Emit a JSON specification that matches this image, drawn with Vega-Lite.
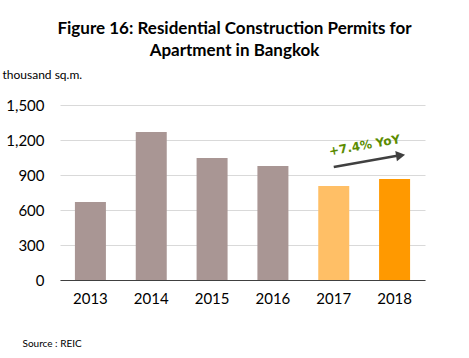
{
  "$schema": "https://vega.github.io/schema/vega-lite/v6.json",
  "autosize": {"type": "none"},
  "width": 365,
  "height": 175,
  "padding": {"left": 60, "top": 105, "right": 44, "bottom": 78},
  "background": "white",
  "config": {
    "font": "Lato",
    "view": {"stroke": null}
  },
  "title": {
    "text": ["Figure 16: Residential Construction Permits for", "Apartment in Bangkok"],
    "fontSize": 17,
    "fontWeight": "bold",
    "font": "Lato",
    "color": "#000000",
    "anchor": "middle",
    "frame": "group",
    "dx": -8,
    "offset": 8,
    "lineHeight": 22
  },
  "datasets": {
    "bars": [
      {"year": "2013", "value": 668, "group": "past"},
      {"year": "2014", "value": 1268, "group": "past"},
      {"year": "2015", "value": 1045, "group": "past"},
      {"year": "2016", "value": 977, "group": "past"},
      {"year": "2017", "value": 805, "group": "2017"},
      {"year": "2018", "value": 865, "group": "2018"}
    ],
    "arrow": [
      {"x1": "2017", "x2": "2018", "y1": 968, "y2": 1068}
    ],
    "label": [
      {"year": "2018", "value": 1155, "text": "+7.4% YoY"}
    ]
  },
  "layer": [
    {
      "data": {"name": "bars"},
      "mark": {"type": "bar", "width": 31},
      "encoding": {
        "x": {
          "field": "year", "type": "nominal",
          "scale": {"paddingInner": 0.5, "paddingOuter": 0.25},
          "axis": {
            "title": "Source : REIC",
            "titleFontSize": 10,
            "titleFontWeight": "normal",
            "titleFont": "Lato",
            "titleColor": "#000000",
            "titleX": -38,
            "titleY": 66,
            "titleAlign": "left",
            "titleBaseline": "alphabetic",
            "labelAngle": 0,
            "labelFontSize": 15,
            "labelColor": "#000000",
            "labelPadding": 11,
            "ticks": false,
            "domainColor": "#404040",
            "domainWidth": 1
          }
        },
        "y": {
          "field": "value", "type": "quantitative",
          "scale": {"domain": [0, 1500], "nice": false, "zero": true},
          "axis": {
            "values": [0, 300, 600, 900, 1200, 1500],
            "tickCount": 6,
            "format": ",.0f",
            "labelOverlap": false,
            "labelFlush": false,
            "title": "thousand sq.m.",
            "titleAngle": 0,
            "titleX": -58,
            "titleY": -27,
            "titleAlign": "left",
            "titleBaseline": "alphabetic",
            "titleFontSize": 12,
            "titleFontWeight": "normal",
            "titleColor": "#000000",
            "labelFontSize": 15,
            "labelColor": "#000000",
            "labelPadding": 16,
            "ticks": false,
            "domain": false,
            "gridColor": "#D9D9D9",
            "gridWidth": 1
          }
        },
        "color": {
          "field": "group", "type": "nominal",
          "scale": {"domain": ["past", "2017", "2018"], "range": ["#A99694", "#FFBF66", "#FF9900"]},
          "legend": null
        }
      }
    },
    {
      "data": {"name": "arrow"},
      "mark": {"type": "rule", "color": "#404040", "strokeWidth": 2.5, "x2Offset": 4},
      "encoding": {
        "x": {"field": "x1", "type": "nominal"},
        "x2": {"field": "x2"},
        "y": {"field": "y1", "type": "quantitative"},
        "y2": {"field": "y2"}
      }
    },
    {
      "data": {"name": "arrow"},
      "mark": {"type": "point", "shape": "triangle-right", "filled": true, "color": "#404040", "opacity": 1, "size": 110, "angle": -9, "xOffset": 6},
      "encoding": {
        "x": {"field": "x2", "type": "nominal"},
        "y": {"field": "y2", "type": "quantitative"}
      }
    },
    {
      "data": {"name": "label"},
      "mark": {"type": "text", "font": "DejaVu Sans", "fontWeight": "bold", "fontSize": 12, "color": "#5B8C00", "angle": -10, "xOffset": -30, "align": "center", "baseline": "middle"},
      "encoding": {
        "x": {"field": "year", "type": "nominal"},
        "y": {"field": "value", "type": "quantitative"},
        "text": {"field": "text"}
      }
    }
  ]
}
